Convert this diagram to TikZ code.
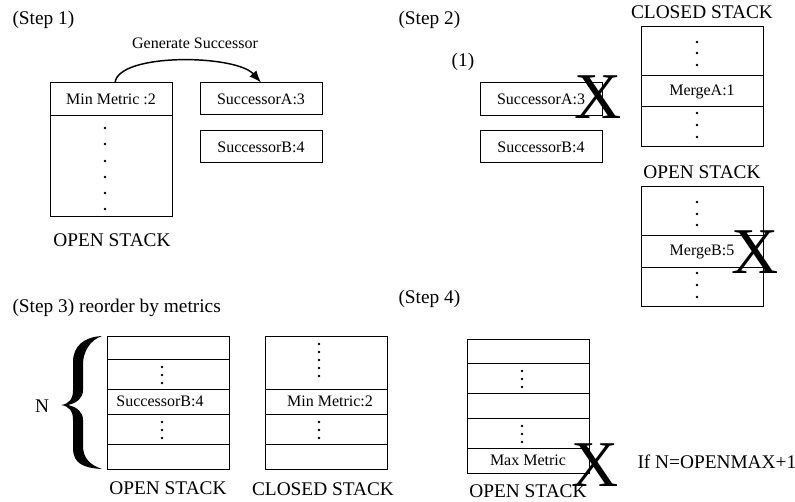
\documentclass[tikz,border=0pt]{standalone}
\usepackage{fontspec}
\setmainfont{Liberation Serif}
\usetikzlibrary{arrows.meta}
\newcommand\bigf{\fontsize{14.5}{16}\selectfont}
\newcommand\smf{\fontsize{12}{14}\selectfont}
\newcommand\xf{\fontsize{49}{49}\selectfont}
\begin{document}
\begin{tikzpicture}[x=0.75pt,y=-0.75pt,
  line width=0.75pt,
  cellbox/.style={draw,line width=0.75pt,minimum width=91.5pt,inner sep=0pt,font=\smf},
  lbl/.style={inner sep=0pt,font=\bigf},
  sml/.style={inner sep=0pt,font=\smf},
  bigx/.style={inner sep=0pt,font=\xf}]
\useasboundingbox (0,0) rectangle (795,502);

% ---------- Step 1 ----------
\node[lbl,anchor=west] (s1) at (12,20) {(Step 1)};
\node[sml] (gen) at (195,43) {Generate Successor};
\node[cellbox,minimum height=24.75pt] (minm) at (111,99.5) {Min Metric :2};
\draw (50,116) rectangle (172,217);
\foreach \yy in {128,144,161,177,193,209} \fill (105,\yy) circle[radius=1pt];
\node[lbl] (os1) at (112,240) {OPEN STACK};
\node[cellbox,minimum height=24pt] (sa1) at (261,99) {SuccessorA:3};
\node[cellbox,minimum height=24pt] (sb1) at (261,147) {SuccessorB:4};
\draw[-{Latex[length=9pt,width=7pt]}, line width=1.1pt] ([xshift=3pt]minm.north) .. controls +(4,-30) and +(-25,-28) .. (sa1.north);

% ---------- Step 2 ----------
\node[lbl,anchor=west] (s2) at (398,20) {(Step 2)};
\node[lbl] (one) at (463,62) {(1)};
\node[cellbox,minimum height=24.75pt] (sa2) at (541,99.5) {SuccessorA:3};
\node[cellbox,minimum height=24pt] (sb2) at (541,147) {SuccessorB:4};
\node[bigx] (x1) at (598,97) {X};

\node[lbl] (cs2) at (702,12) {CLOSED STACK};
\draw (641,27) rectangle (763,147);
\draw (641,76) -- (764,76) (641,107) -- (764,107);
\node[sml] (ma) at (702,91.5) {MergeA:1};
\foreach \yy in {42,53,65,113,125,137} \fill (697,\yy) circle[radius=1pt];

\node[lbl] (os2) at (702,172) {OPEN STACK};
\draw (641,187) rectangle (763,306);
\draw (641,236) -- (764,236) (641,267) -- (764,267);
\node[sml] (mb) at (702,251.5) {MergeB:5};
\foreach \yy in {202,214,225,273,285,297} \fill (697,\yy) circle[radius=1pt];
\node[bigx] (x2) at (755,252) {X};

% ---------- Step 3 ----------
\node[lbl,anchor=west] (s3) at (12,308) {(Step 3) reorder by metrics};
\draw (107,336) rectangle (229,469);
\draw (107,359) -- (229,359) (107,389) -- (229,389) (107,414) -- (229,414) (107,444) -- (229,444);
\node[sml] (sb3) at (160,401.5) {SuccessorB:4};
\foreach \yy in {367,375,383,422,430,438} \fill (162,\yy) circle[radius=1pt];
\fill (102,336) .. controls (84,337) and (73,346) .. (73,362) -- (73,390)
      .. controls (73,399) and (69,404) .. (61,405)
      .. controls (69,406) and (73,411) .. (73,420) -- (73,448)
      .. controls (73,464) and (84,468) .. (102,469)
      .. controls (90,465) and (83,458) .. (83,446) -- (83,420)
      .. controls (83,412) and (77,407) .. (68,405)
      .. controls (77,403) and (83,398) .. (83,390) -- (83,364)
      .. controls (83,352) and (90,340) .. (102,336) -- cycle;
\node[lbl] (n) at (42,406) {N};
\node[lbl] (os3) at (168,488) {OPEN STACK};

\draw (265,336) rectangle (387,469);
\draw (265,389) -- (387,389) (265,414) -- (387,414) (265,444) -- (387,444);
\node[sml] (mm3) at (330,401.5) {Min Metric:2};
\foreach \yy in {344,352,360,368,376,422,430,438} \fill (319,\yy) circle[radius=1pt];
\node[lbl] (cs3) at (323,489) {CLOSED STACK};

% ---------- Step 4 ----------
\node[lbl,anchor=west] (s4) at (398,299) {(Step 4)};
\draw (467,339) rectangle (589,473);
\draw (467,363) -- (589,363) (467,393) -- (589,393) (467,418) -- (589,418) (467,448) -- (589,448);
\node[sml] (mx) at (528,460.5) {Max Metric};
\foreach \yy in {371,379,387,426,434,442} \fill (522,\yy) circle[radius=1pt];
\node[bigx] (x3) at (595,465) {X};
\node[lbl] (os4) at (528,491) {OPEN STACK};
\node[lbl,anchor=west] (cond) at (637,462) {If N=OPENMAX+1};
\end{tikzpicture}
\end{document}
